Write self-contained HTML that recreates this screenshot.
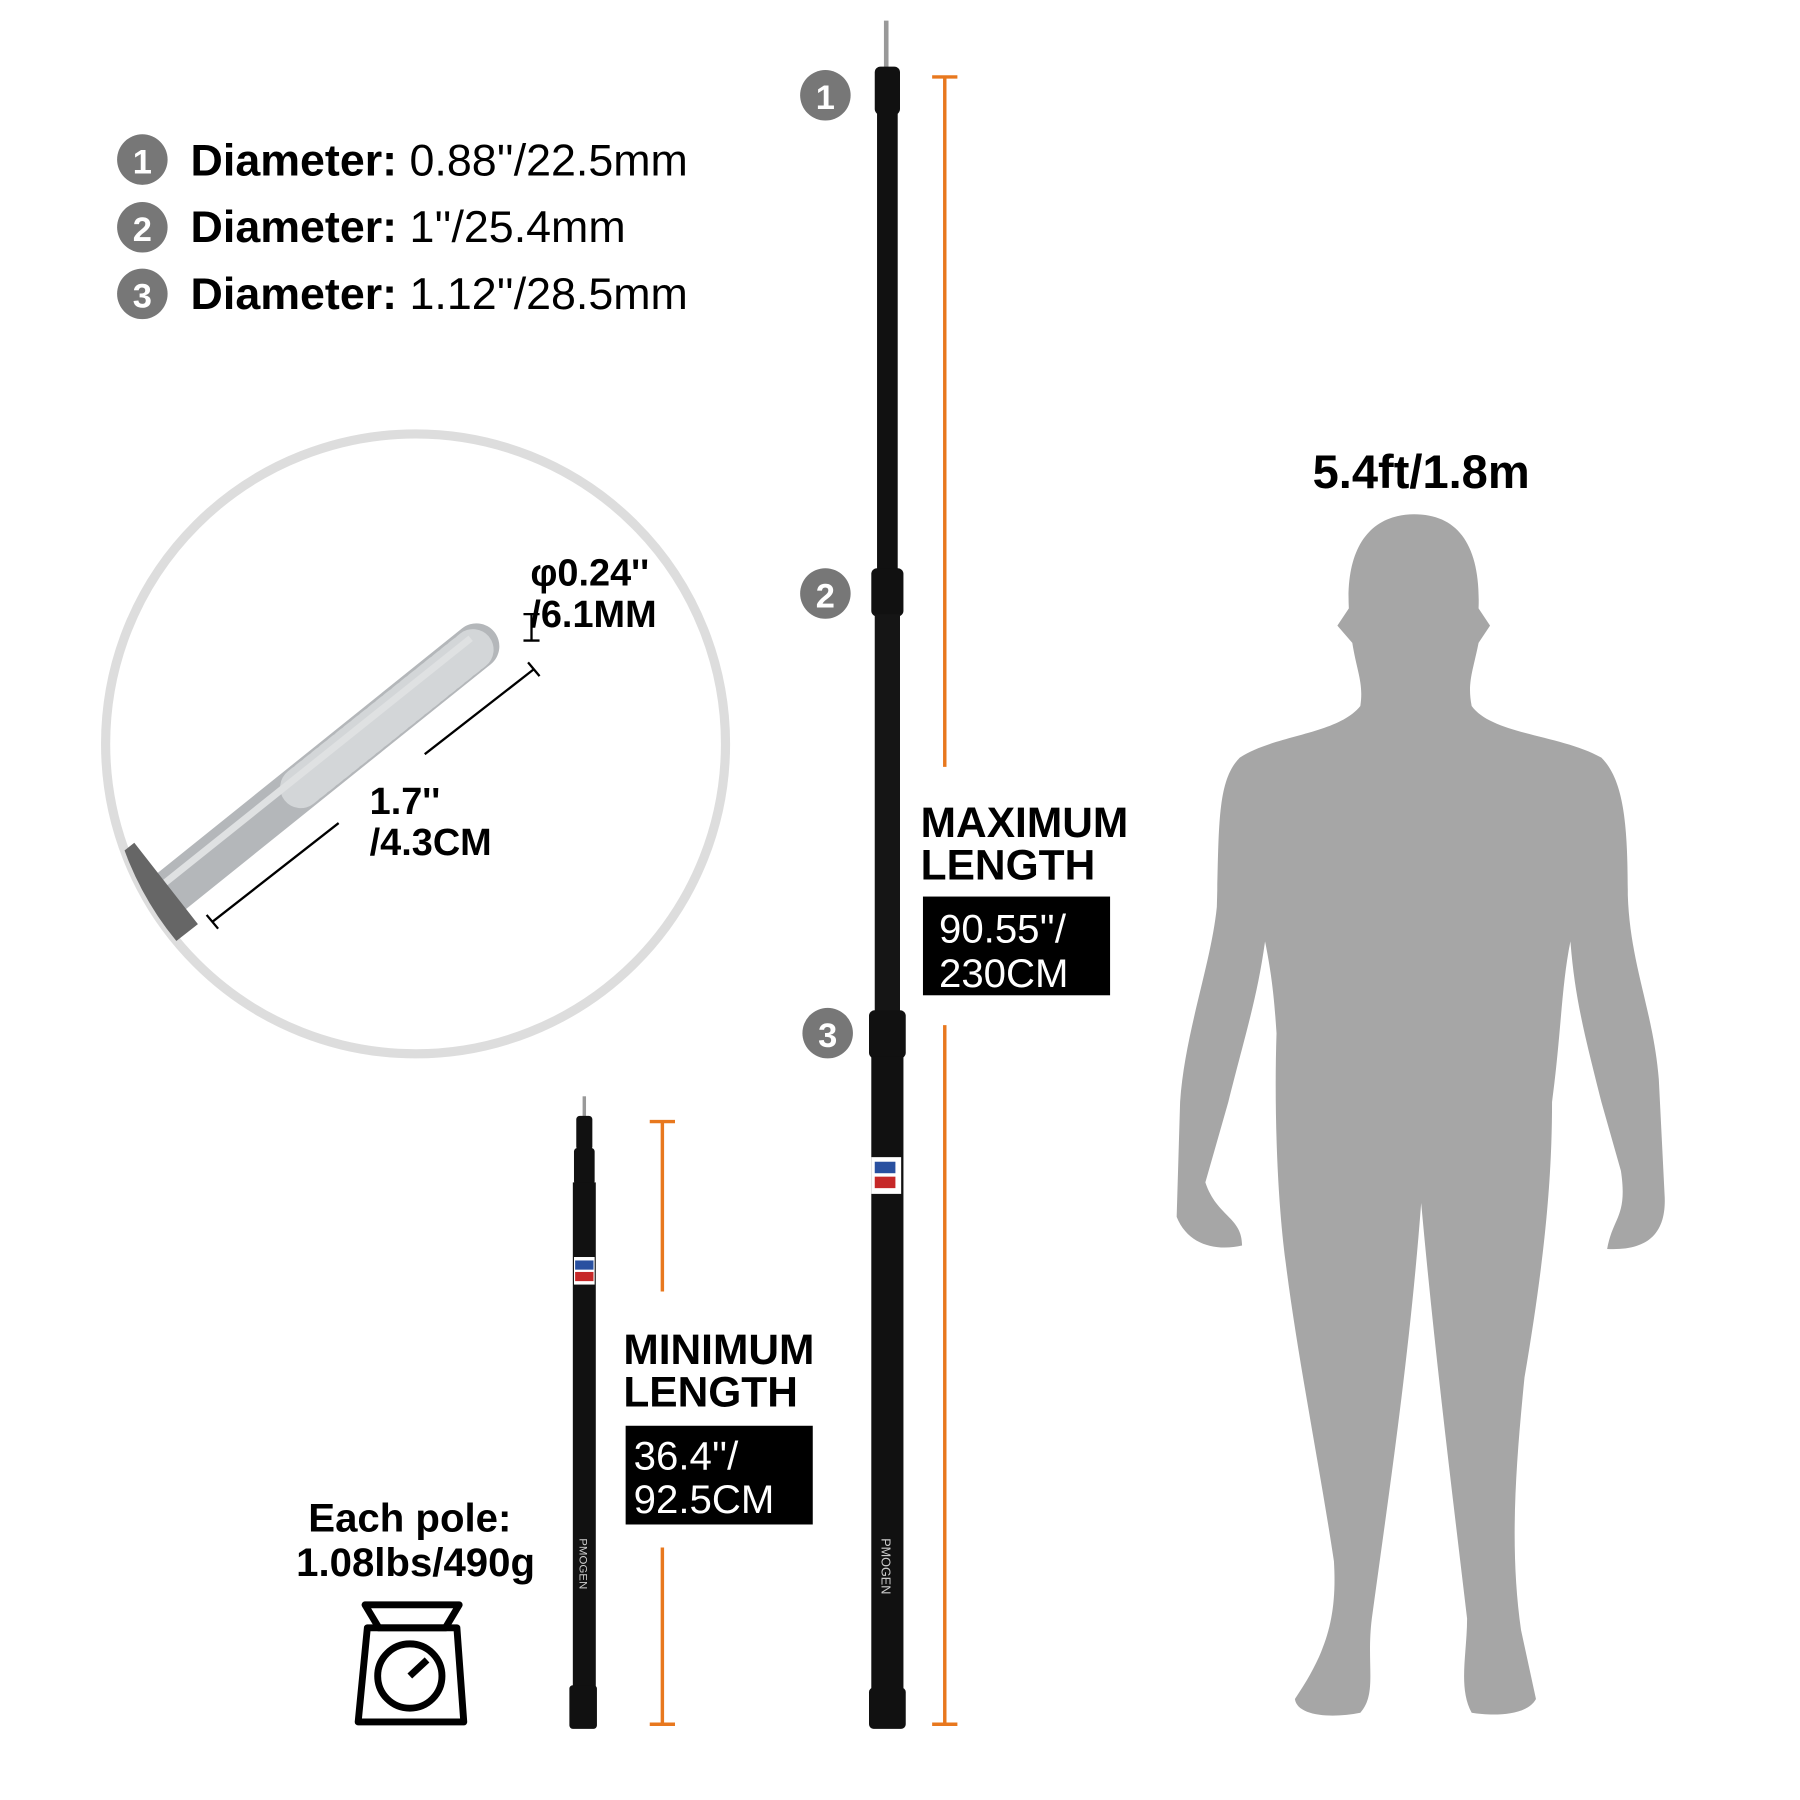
<!DOCTYPE html>
<html><head><meta charset="utf-8"><style>
html,body{margin:0;padding:0;background:#fff;}
svg{display:block;}
text{font-family:"Liberation Sans",Arial,sans-serif;}
</style></head><body>
<svg width="1800" height="1800" viewBox="0 0 1568 1568" xmlns="http://www.w3.org/2000/svg">
<rect width="1600" height="1600" fill="#fff"/>
<!-- legend -->
<g font-size="39">
<circle cx="124" cy="139" r="22" fill="#777"/><text x="124" y="151" fill="#fff" font-weight="bold" font-size="30" text-anchor="middle">1</text>
<text x="166" y="153"><tspan font-weight="bold">Diameter:</tspan> 0.88''/22.5mm</text>
<circle cx="124" cy="198" r="22" fill="#777"/><text x="124" y="210" fill="#fff" font-weight="bold" font-size="30" text-anchor="middle">2</text>
<text x="166" y="211"><tspan font-weight="bold">Diameter:</tspan> 1''/25.4mm</text>
<circle cx="124" cy="256" r="22" fill="#777"/><text x="124" y="268" fill="#fff" font-weight="bold" font-size="30" text-anchor="middle">3</text>
<text x="166" y="269"><tspan font-weight="bold">Diameter:</tspan> 1.12''/28.5mm</text>
</g>
<!-- circle detail -->
<defs><clipPath id="cc"><circle cx="362" cy="648" r="270"/></clipPath></defs>
<circle cx="362" cy="648" r="270" fill="#fff" stroke="#ddd" stroke-width="8"/>
<g clip-path="url(#cc)">
<line x1="120" y1="800" x2="415" y2="563" stroke="#b4b7ba" stroke-width="40" stroke-linecap="round"/>
<line x1="262" y1="686" x2="412" y2="566" stroke="#d3d6d8" stroke-width="36" stroke-dasharray="5 4" stroke-linecap="round"/>
<line x1="120" y1="788" x2="410" y2="556" stroke="#dfe1e2" stroke-width="6"/>
<rect x="100" y="740" width="50" height="90" fill="#666" transform="rotate(-38 125 785)"/>
</g>
<g stroke="#000" stroke-width="2" fill="none">
<line x1="463" y1="535" x2="463" y2="558"/><line x1="456" y1="535" x2="470" y2="535"/><line x1="456" y1="558" x2="470" y2="558"/>
<line x1="370" y1="657" x2="465" y2="583"/><line x1="185" y1="803" x2="295" y2="717"/>
<line x1="460" y1="577" x2="470" y2="589"/><line x1="180" y1="797" x2="190" y2="809"/>
</g>
<g font-weight="bold" font-size="33">
<text x="462" y="510">φ0.24''</text><text x="462" y="546">/6.1MM</text>
<text x="322" y="709">1.7''</text><text x="322" y="745">/4.3CM</text>
</g>
<!-- big pole -->
<line x1="772" y1="18" x2="772" y2="62" stroke="#999" stroke-width="4"/>
<rect x="762" y="58" width="22" height="42" rx="5" fill="#111"/>
<rect x="764" y="98" width="18" height="400" fill="#111"/>
<rect x="759" y="495" width="28" height="42" rx="5" fill="#111"/>
<rect x="762" y="535" width="22" height="350" fill="#151515"/>
<rect x="757" y="880" width="32" height="42" rx="5" fill="#111"/>
<rect x="759" y="920" width="28" height="560" fill="#111"/>
<rect x="757" y="1470" width="32" height="36" rx="4" fill="#111"/>
<rect x="759" y="1008" width="26" height="32" fill="#fff"/><rect x="762" y="1012" width="18" height="10" fill="#2950a0"/><rect x="762" y="1025" width="18" height="10" fill="#c62828"/>
<text x="0" y="0" fill="#ccc" font-size="11" transform="translate(768 1340) rotate(90)">PMOGEN</text>
<circle cx="719" cy="83" r="22" fill="#777"/><text x="719" y="95" fill="#fff" font-weight="bold" font-size="30" text-anchor="middle">1</text>
<circle cx="719" cy="517" r="22" fill="#777"/><text x="719" y="529" fill="#fff" font-weight="bold" font-size="30" text-anchor="middle">2</text>
<circle cx="721" cy="900" r="22" fill="#777"/><text x="721" y="912" fill="#fff" font-weight="bold" font-size="30" text-anchor="middle">3</text>
<!-- orange -->
<g stroke="#e8781e" stroke-width="3">
<line x1="823" y1="67" x2="823" y2="668"/><line x1="812" y1="67" x2="834" y2="67"/>
<line x1="823" y1="893" x2="823" y2="1502"/><line x1="812" y1="1502" x2="834" y2="1502"/>
<line x1="577" y1="977" x2="577" y2="1125"/><line x1="566" y1="977" x2="588" y2="977"/>
<line x1="577" y1="1348" x2="577" y2="1502"/><line x1="566" y1="1502" x2="588" y2="1502"/>
</g>
<g font-weight="bold" font-size="37">
<text x="802" y="729">MAXIMUM</text><text x="802" y="766">LENGTH</text>
<text x="543" y="1188">MINIMUM</text><text x="543" y="1225">LENGTH</text>
</g>
<rect x="804" y="781" width="163" height="86" fill="#000"/>
<text x="818" y="821" fill="#fff" font-size="35">90.55''/</text><text x="818" y="860" fill="#fff" font-size="35">230CM</text>
<rect x="545" y="1242" width="163" height="86" fill="#000"/>
<text x="552" y="1280" fill="#fff" font-size="35">36.4''/</text><text x="552" y="1318" fill="#fff" font-size="35">92.5CM</text>
<!-- small pole -->
<line x1="509" y1="955" x2="509" y2="975" stroke="#999" stroke-width="3"/>
<rect x="502" y="972" width="14" height="30" rx="3" fill="#111"/>
<rect x="500" y="1000" width="18" height="32" rx="3" fill="#111"/>
<rect x="499" y="1030" width="20" height="440" fill="#111"/>
<rect x="496" y="1468" width="24" height="38" rx="3" fill="#111"/>
<rect x="500" y="1095" width="18" height="24" fill="#fff"/><rect x="501" y="1098" width="16" height="8" fill="#2950a0"/><rect x="501" y="1108" width="16" height="8" fill="#c62828"/>
<text x="0" y="0" fill="#ccc" font-size="10" transform="translate(505 1340) rotate(90)">PMOGEN</text>
<!-- weight -->
<g font-weight="bold" font-size="35" text-anchor="middle">
<text x="357" y="1334">Each pole:</text><text x="362" y="1373">1.08lbs/490g</text>
</g>
<g fill="none" stroke="#000" stroke-width="6" stroke-linejoin="round">
<path d="M318 1398 L400 1398 L388 1418 L330 1418 Z"/>
<path d="M320 1418 L398 1418 L404 1500 L312 1500 Z"/>
<circle cx="357" cy="1460" r="28"/>
<line x1="357" y1="1460" x2="372" y2="1446"/>
</g>
<!-- human -->
<text x="1238" y="425" font-weight="bold" font-size="41" text-anchor="middle">5.4ft/1.8m</text>
<path fill="#a6a6a6" d="M1232 448 C1270 448 1290 475 1288 530 L1298 545 L1288 560 C1283 585 1278 595 1282 615 C1300 640 1360 640 1395 660 C1415 680 1418 720 1418 780 C1420 840 1440 880 1445 940 L1450 1040 C1452 1070 1440 1090 1400 1088 C1405 1060 1418 1060 1412 1020 L1395 960 C1380 900 1372 870 1368 820 C1360 860 1360 900 1352 960 C1352 1030 1345 1100 1328 1200 C1320 1280 1315 1350 1325 1420 L1338 1480 C1330 1495 1300 1495 1282 1492 C1270 1470 1278 1440 1278 1410 C1265 1300 1250 1180 1238 1048 C1228 1180 1210 1300 1195 1410 C1190 1450 1200 1475 1185 1492 C1160 1497 1130 1495 1128 1480 C1155 1440 1165 1410 1162 1360 C1150 1280 1130 1180 1120 1100 C1112 1040 1110 960 1112 900 C1110 870 1108 850 1102 820 C1095 870 1085 900 1070 960 L1050 1030 C1060 1060 1082 1060 1082 1085 C1060 1090 1035 1085 1025 1060 L1028 960 C1032 900 1055 840 1060 790 C1062 720 1060 680 1080 660 C1110 640 1165 640 1185 615 C1188 595 1182 585 1178 560 L1165 545 L1175 530 C1172 475 1195 448 1232 448 Z"/>
</svg>
</body></html>
